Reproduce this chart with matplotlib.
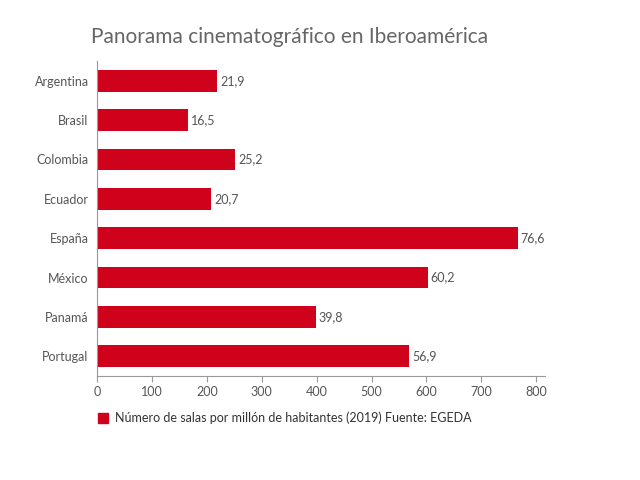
import matplotlib.pyplot as plt
from matplotlib.patches import Patch

paises = ["Argentina", "Brasil", "Colombia", "Ecuador", "España", "México", "Panamá", "Portugal"]
valores = [219, 165, 252, 207, 766, 602, 398, 569]
etiquetas = ["21,9", "16,5", "25,2", "20,7", "76,6", "60,2", "39,8", "56,9"]
ticks = [0, 100, 200, 300, 400, 500, 600, 700, 800]

rojo = "#d0021b"
gris = "#555555"
plt.rcParams["font.family"] = "Lato"

fig = plt.figure(figsize=(6.4, 4.8), dpi=100)
ax = fig.add_axes([97 / 640, 1 - 376 / 480, (545 - 97) / 640, (376 - 61) / 480])

y = list(range(len(paises)))
ax.barh(y, valores, height=0.55, color=rojo)
for yi, v, t in zip(y, valores, etiquetas):
    ax.text(v + 6, yi, t, va="center", ha="left", fontsize=9, color=gris)

ax.set_yticks(y)
ax.set_yticklabels(paises, fontsize=9, color=gris)
ax.set_ylim(len(paises) - 0.5, -0.5)
ax.set_xlim(0, 816)
ax.set_xticks(ticks)
ax.set_xticklabels([str(t) for t in ticks], fontsize=9, color=gris)
ax.tick_params(axis="y", length=0, pad=6)
ax.tick_params(axis="x", length=4, color="#999999")
for s in ["top", "right"]:
    ax.spines[s].set_visible(False)
for s in ["left", "bottom"]:
    ax.spines[s].set_color("#999999")

fig.text(290 / 640, 1 - 37 / 480, "Panorama cinematográfico en Iberoamérica",
         ha="center", va="center", fontsize=15, color="#666666")
fig.legend(handles=[Patch(color=rojo)],
           labels=["Número de salas por millón de habitantes (2019) Fuente: EGEDA"],
           loc="center", bbox_to_anchor=(285 / 640, 1 - 418 / 480), frameon=False,
           fontsize=9, handlelength=0.8, handleheight=0.8, handletextpad=0.6,
           labelcolor="#333333")

fig.savefig("out.png", dpi=100)
